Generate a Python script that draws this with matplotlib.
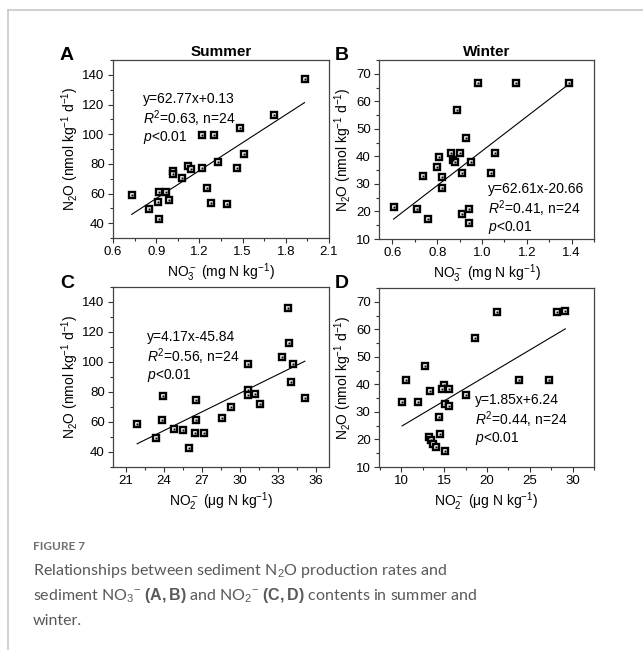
import numpy as np
import matplotlib.pyplot as plt
from matplotlib.lines import Line2D
from matplotlib.ticker import MultipleLocator

plt.rcParams['font.family'] = ['Liberation Sans', 'DejaVu Sans']
plt.rcParams['mathtext.fontset'] = 'custom'
plt.rcParams['mathtext.rm'] = 'Liberation Sans'
plt.rcParams['mathtext.it'] = 'Liberation Sans:italic'
plt.rcParams['mathtext.bf'] = 'Liberation Sans:bold'


# summer NO3- vs N2O (A)
no3_summer = [1.93, 1.72, 1.48, 1.22, 1.30, 1.51, 1.33, 1.12, 1.14, 1.22, 1.46, 1.02,
              1.02, 1.08, 1.25, 0.92, 0.97, 0.73, 0.91, 0.99, 1.28, 1.39, 0.85, 0.92]
n2o_summer_a = [137, 113, 104, 99.3, 99.3, 86.8, 81.4, 78.5, 76.2, 77.4, 77.4, 75.1,
                73.0, 70.2, 63.5, 61.3, 61.3, 58.8, 54.5, 55.7, 53.4, 52.8, 49.8, 42.7]

# winter NO3- vs N2O (B)
no3_winter = [1.39, 1.15, 0.98, 0.89, 0.93, 0.86, 0.90, 1.06, 0.81, 0.87, 0.88, 0.95,
              0.80, 0.735, 0.82, 0.91, 1.04, 0.82, 0.605, 0.71, 0.94, 0.76, 0.91, 0.94]
n2o_winter_b = [66.8, 66.6, 66.6, 56.9, 46.8, 41.4, 41.4, 41.4, 39.6, 38.7, 38.0, 37.8,
                36.3, 32.9, 32.4, 33.8, 33.8, 28.4, 21.8, 20.8, 20.8, 17.2, 19.0, 15.9]

# summer NO2- vs N2O (C)
no2_summer = [33.8, 33.85, 33.3, 34.2, 30.65, 34.0, 30.65, 30.6, 31.2, 31.6, 35.1, 29.3,
              28.55, 23.9, 26.5, 23.85, 26.5, 21.9, 24.8, 25.5, 26.45, 27.2, 23.4, 26.0]
n2o_summer_c = [136.2, 112.7, 103.3, 98.9, 98.9, 86.7, 81.6, 77.8, 78.4, 72.2, 76.2, 70.0,
                62.9, 77.1, 74.4, 61.1, 61.1, 58.4, 55.1, 54.4, 52.7, 52.7, 49.6, 42.7]

# winter NO2- vs N2O (D)
no2_winter = [29.15, 28.2, 21.2, 18.55, 12.8, 10.6, 23.7, 27.3, 14.95, 14.75, 15.55, 13.4,
              17.55, 10.1, 12.0, 15.15, 15.6, 14.35, 14.5, 13.2, 13.47, 13.65, 14.05, 15.15]
n2o_winter_d = [66.6, 66.4, 66.4, 56.9, 46.7, 41.5, 41.5, 41.5, 39.7, 38.5, 38.2, 37.6,
                36.1, 33.6, 33.6, 32.8, 32.2, 28.2, 21.9, 20.9, 19.9, 18.2, 17.3, 15.8]

# fitted lines (slope, intercept) and stats text
fits = [(62.77, 0.13), (62.61, -20.66), (4.17, -45.84), (1.85, 6.24)]
eqs = ["y=62.77x+0.13", "y=62.61x-20.66", "y=4.17x-45.84", "y=1.85x+6.24"]
r2 = ["0.63", "0.41", "0.56", "0.44"]

xs = [no3_summer, no3_winter, no2_summer, no2_winter]
ys = [n2o_summer_a, n2o_winter_b, n2o_summer_c, n2o_winter_d]
letters = ["A", "B", "C", "D"]

W, H = 643, 650
fig = plt.figure(figsize=(W / 100, H / 100), dpi=100)

# axes boxes in pixels: left, top, right, bottom
boxes = [(113, 60, 329, 238), (379, 60, 594, 239),
         (113, 287, 329, 467), (379, 288, 594, 467)]
letter_x = [60, 335, 60, 335]
xlims = [(0.6, 2.1), (0.54, 1.5), (20, 37), (7.4, 32.5)]
ylims = [(30, 150), (10, 75), (30, 150), (10, 75)]
xmaj = [0.3, 0.2, 3, 5]
ymaj = [20, 10, 20, 10]
xlabels = [r"NO$_3^-$ (mg N kg$^{-1}$)", r"NO$_3^-$ (mg N kg$^{-1}$)",
           r"NO$_2^-$ (μg N kg$^{-1}$)", r"NO$_2^-$ (μg N kg$^{-1}$)"]
ylabel = r"N$_2$O (nmol kg$^{-1}$ d$^{-1}$)"
txt_pos = [(0.139, [0.78, 0.668, 0.567]), (0.507, [0.279, 0.168, 0.067]),
           (0.157, [0.722, 0.611, 0.511]), (0.447, [0.374, 0.263, 0.162])]

for i in range(4):
    l, t, r, b = boxes[i]
    ax = fig.add_axes([l / W, 1 - b / H, (r - l) / W, (b - t) / H])
    x = np.array(xs[i])
    y = np.array(ys[i])
    ax.plot(x, y, 's', ms=5.0, mfc='white', mec='black', mew=1.7, zorder=3)
    ax.plot(x, y, 's', ms=1.5, mfc='black', mec='none', zorder=4)
    k, c = fits[i]
    xx = np.array([x.min(), x.max()])
    ax.plot(xx, k * xx + c, color='black', lw=0.8, zorder=2)

    ax.set_xlim(xlims[i])
    ax.set_ylim(ylims[i])
    ax.xaxis.set_major_locator(MultipleLocator(xmaj[i]))
    ax.xaxis.set_minor_locator(MultipleLocator(xmaj[i] / 2))
    ax.yaxis.set_major_locator(MultipleLocator(ymaj[i]))
    ax.yaxis.set_minor_locator(MultipleLocator(ymaj[i] / 2))
    if i == 0:
        ax.set_xticks([0.6, 0.9, 1.2, 1.5, 1.8, 2.1])
        ax.set_xticklabels(["0.6", "0.9", "1.2", "1.5", "1.8", "2.1"])
    if i == 1:
        ax.set_xticks([0.6, 0.8, 1.0, 1.2, 1.4])
        ax.set_xticklabels(["0.6", "0.8", "1.0", "1.2", "1.4"])
    ax.tick_params(which='major', direction='out', length=3.5, width=0.8,
                   labelsize=9.5, pad=2.5, color='#333333')
    ax.tick_params(which='minor', direction='out', length=2, width=0.8, color='#333333')
    ax.tick_params(top=False, right=False, which='both')
    for s in ax.spines.values():
        s.set_color('#444444')
        s.set_linewidth(0.9)

    ax.set_xlabel(xlabels[i], fontsize=10, labelpad=2)
    ax.set_ylabel(ylabel, fontsize=10, labelpad=1)

    tx, tys = txt_pos[i]
    ax.text(tx, tys[0], eqs[i], transform=ax.transAxes, fontsize=10, va='center')
    ax.text(tx, tys[1], "$R^2$=" + r2[i] + ", n=24", transform=ax.transAxes,
            fontsize=10, va='center')
    ax.text(tx, tys[2], "$p$<0.01", transform=ax.transAxes, fontsize=10, va='center')

    if i == 0:
        ax.set_title("Summer", fontsize=11, fontweight='bold', pad=3)
    if i == 1:
        ax.set_title("Winter", fontsize=11, fontweight='bold', pad=3)

    fig.text(letter_x[i] / W, 1 - (t + 0.5) / H, letters[i], fontsize=14,
             fontweight='bold', va='baseline', ha='left')

# outer frame lines
fig.add_artist(Line2D([8 / W, 1], [1 - 10 / H, 1 - 10 / H], color='#c4c4c4', lw=1.1))
fig.add_artist(Line2D([8 / W, 8 / W], [0, 1 - 10 / H], color='#c4c4c4', lw=1.1))

# caption
cap = ['Lato', 'DejaVu Sans']
fig.text(33 / W, 1 - 550 / H, "FIGURE 7", family=cap, fontsize=8.5,
         fontweight='bold', color='#707070', va='baseline')
lines = ["Relationships between sediment N$_2$O production rates and",
         r"sediment NO$_3$$^{-}$ $\mathbf{(A,B)}$ and NO$_2$$^{-}$ $\mathbf{(C,D)}$ contents in summer and",
         "winter."]
for j, s in enumerate(lines):
    fig.text(33 / W, 1 - (575 + 25 * j) / H, s, family=cap, fontsize=11.5,
             color='#595959', va='baseline')

fig.savefig("out.png", dpi=100)
